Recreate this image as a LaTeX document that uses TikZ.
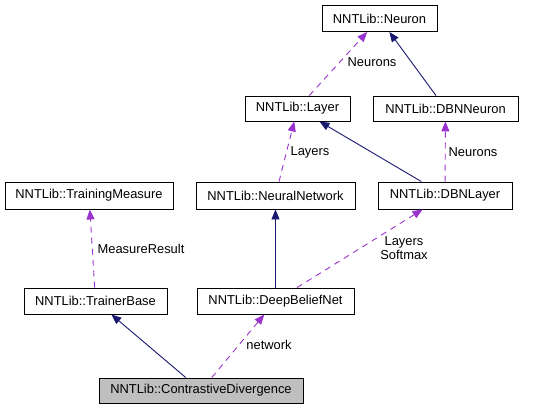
\documentclass[tikz,border=0pt]{standalone}
\usepackage{fontspec}
\setmainfont{Liberation Sans}
\usepackage{tikz}
\usetikzlibrary{positioning, arrows.meta, calc}

\definecolor{inheritblue}{HTML}{191970}
\definecolor{usagepurple}{HTML}{9A32CD}

\begin{document}
\begin{tikzpicture}[x=1pt, y=-1pt]
                        \tikzset{
                            class box/.style={
                                    draw=black, line width=0.9pt, fill=white, inner sep=0pt,
                                    minimum height=26pt, font=\fontsize{12.9}{14.5}\selectfont
                                },
                            inherit edge/.style={
                                    -{Triangle[length=10pt, width=8pt]}, line width=0.9pt, color=inheritblue
                                },
                            usage edge/.style={
                                    -{Triangle[length=10pt, width=8pt]}, line width=0.9pt, color=usagepurple,
                                    dash pattern=on 6pt off 5pt
                                },
                            edge label/.style={
                                    font=\fontsize{12.9}{14.5}\selectfont, text=black, align=center, inner sep=0pt
                                }
                        }
                        \useasboundingbox (0, 0) rectangle (533, 409);

                        % Classes
                        \node[class box, minimum width=115pt] (neuron) at (379.5, 18.5) {NNTLib::Neuron};
                        \node[class box, minimum width=105pt, minimum height=25pt] (layer) at (297.5, 108.5) {NNTLib::Layer};
                        \node[class box, minimum width=145pt, minimum height=25pt] (dbnNeuron) at (445.5, 108.5) {NNTLib::DBNNeuron};
                        \node[class box, minimum width=168pt, minimum height=27pt] (trainingMeasure) at (89, 195.5) {NNTLib::TrainingMeasure};
                        \node[class box, minimum width=159pt, minimum height=27pt] (neuralNetwork) at (275.5, 195.5) {NNTLib::NeuralNetwork};
                        \node[class box, minimum width=134pt, minimum height=27pt] (dbnLayer) at (445, 195.5) {NNTLib::DBNLayer};
                        \node[class box, minimum width=143pt] (trainerBase) at (95.5, 301) {NNTLib::TrainerBase};
                        \node[class box, minimum width=157pt] (deepBeliefNet) at (275.5, 301) {NNTLib::DeepBeliefNet};
                        \node[class box, minimum width=204pt, minimum height=25pt, fill=gray!50] (contrastiveDiv) at (201, 390.5) {NNTLib::ContrastiveDivergence};

                        % Inheritance
                        \draw[inherit edge] (dbnNeuron) -- (neuron);
                        \draw[inherit edge] (dbnLayer) -- (layer);
                        \draw[inherit edge] (deepBeliefNet) -- (neuralNetwork);
                        \draw[inherit edge] (contrastiveDiv) -- (trainerBase);

                        % Members
                        \draw[usage edge] (layer) -- (neuron);
                        \draw[usage edge] (neuralNetwork) -- (layer);
                        \draw[usage edge] (dbnLayer) -- (dbnNeuron);
                        \draw[usage edge] (trainerBase) -- (trainingMeasure);
                        \draw[usage edge] (deepBeliefNet) -- (dbnLayer);
                        \draw[usage edge] (contrastiveDiv) -- (deepBeliefNet);

                        \node[edge label] (lblNeurons) at (372, 62) {Neurons};
                        \node[edge label] (lblLayers) at (310, 152) {Layers};
                        \node[edge label] (lblDbnNeurons) at (473, 152) {Neurons};
                        \node[edge label] (lblMeasure) at (141, 249) {MeasureResult};
                        \node[edge label] (lblSoftmax) at (404, 248) {Layers\\Softmax};
                        \node[edge label] (lblNetwork) at (269, 345) {network};
                    \end{tikzpicture}
\end{document}
